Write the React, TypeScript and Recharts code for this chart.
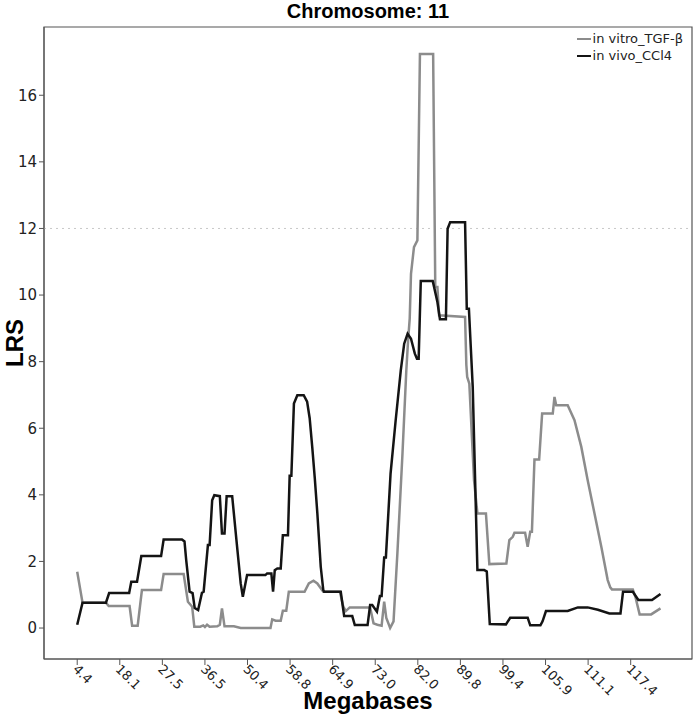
import { LineChart, Line, XAxis, YAxis, ReferenceLine, ReferenceArea, Legend } from 'recharts';

// x positions are in marker-index units: one labelled tick every 10 markers
const MB_LABELS = ['4.4', '18.1', '27.5', '36.5', '50.4', '58.8', '64.9', '73.0', '82.0', '89.8', '99.4', '105.9', '111.1', '117.4'];
const X_TICKS = MB_LABELS.map((_, i) => i * 10);
const Y_TICKS = [0, 2, 4, 6, 8, 10, 12, 14, 16];
const THRESHOLD = 12;

const SERIES_NAMES = ['in vitro_TGF-β', 'in vivo_CCl4'];
const SERIES_COLORS = ['#8c8c8c', '#141414'];

const VITRO_POINTS: [number, number][] = [
  [0, 1.69], [1.25, 0.76], [6.75, 0.76], [7.4, 0.66], [12.3, 0.66], [12.9, 0.07], [14.2, 0.07],
  [15.2, 1.14], [19.7, 1.14], [20.3, 1.62], [25.0, 1.62], [26.0, 0.79], [27.0, 0.64], [27.5, 0.04],
  [28.9, 0.04], [29.6, 0.08], [30.0, 0.03], [30.5, 0.1], [31.1, 0.04], [32.9, 0.05], [33.5, 0.1],
  [34.0, 0.59], [34.6, 0.05], [36.8, 0.05], [38.4, 0.0], [45.4, 0.0], [45.8, 0.26], [46.6, 0.22],
  [47.8, 0.22], [48.3, 0.52], [49.1, 0.52], [49.7, 1.09], [53.4, 1.09], [54.4, 1.34], [55.5, 1.42],
  [56.4, 1.34], [57.8, 1.09], [61.7, 1.09], [62.5, 0.64], [63.1, 0.51], [64.0, 0.62], [68.8, 0.62],
  [69.6, 0.14], [70.5, 0.1], [71.5, 0.07], [72.1, 0.79], [72.6, 0.3], [73.5, 0.0], [74.3, 0.2],
  [75.2, 2.24], [76.4, 5.24], [77.3, 7.74], [77.7, 8.6], [78.1, 9.3], [78.4, 10.64], [79.1, 11.44],
  [79.9, 11.64], [80.5, 17.24], [83.6, 17.24], [84.1, 10.24], [84.6, 10.24], [85.0, 9.39], [91.1, 9.34],
  [91.4, 7.9], [91.6, 7.54], [92.1, 7.34], [93.2, 4.44], [94.0, 3.44], [96.0, 3.44], [96.8, 1.92],
  [100.8, 1.94], [101.5, 2.64], [102.3, 2.74], [102.7, 2.86], [105.2, 2.86], [105.8, 2.44], [106.4, 2.89],
  [106.8, 2.89], [107.4, 5.06], [108.5, 5.06], [109.2, 6.44], [111.7, 6.44], [112.1, 6.94], [112.5, 6.69],
  [115.2, 6.69], [116.8, 6.24], [118.4, 5.44], [119.9, 4.44], [121.5, 3.44], [123.1, 2.44], [124.6, 1.44],
  [125.2, 1.22], [125.6, 1.16], [130.5, 1.16], [131.1, 0.94], [132.1, 0.41], [134.8, 0.41], [137.0, 0.59],
];

const VIVO_POINTS: [number, number][] = [
  [0, 0.1], [1.25, 0.76], [6.75, 0.76], [7.5, 1.05], [12.2, 1.05], [12.7, 1.39], [14.05, 1.39],
  [15.06, 2.16], [19.7, 2.16], [20.3, 2.66], [24.6, 2.66], [25.2, 2.6], [25.6, 2.04], [26.4, 1.09],
  [27.1, 1.05], [27.6, 0.6], [28.4, 0.54], [29.3, 1.06], [29.7, 1.09], [30.7, 2.49], [31.1, 2.49],
  [31.7, 3.84], [32.2, 3.99], [33.5, 3.96], [34.0, 2.84], [34.6, 2.84], [35.1, 3.96], [36.4, 3.96],
  [37.4, 2.64], [38.4, 1.34], [38.9, 0.94], [39.9, 1.59], [44.2, 1.59], [44.6, 1.64], [45.6, 1.64],
  [46.0, 1.09], [46.4, 1.74], [47.0, 1.79], [47.8, 1.79], [48.3, 2.79], [49.5, 2.79], [49.9, 4.57],
  [50.3, 4.57], [50.9, 6.74], [51.7, 6.99], [53.2, 6.99], [54.0, 6.8], [54.6, 6.3], [55.2, 5.44],
  [55.8, 4.5], [56.4, 3.45], [57.2, 1.84], [57.8, 1.14], [58.0, 1.09], [61.9, 1.09], [62.7, 0.36],
  [64.6, 0.36], [65.2, 0.09], [68.2, 0.09], [68.8, 0.69], [69.3, 0.69], [70.4, 0.49], [71.1, 0.96],
  [71.5, 0.96], [72.1, 2.12], [72.5, 2.12], [73.6, 4.64], [74.8, 6.24], [76.0, 7.74], [76.8, 8.54],
  [77.6, 8.84], [78.4, 8.69], [79.3, 8.24], [79.8, 8.09], [80.2, 8.09], [80.7, 10.42], [83.5, 10.42],
  [84.0, 10.14], [84.6, 9.79], [85.2, 9.27], [86.6, 9.27], [87.0, 11.99], [87.6, 12.19], [91.1, 12.19],
  [91.5, 9.59], [92.0, 9.59], [92.9, 7.24], [94.0, 1.74], [95.6, 1.74], [96.2, 1.7], [96.9, 0.12],
  [100.7, 0.11], [101.7, 0.31], [105.8, 0.31], [106.4, 0.08], [108.8, 0.08], [109.3, 0.2], [110.1, 0.51],
  [115.2, 0.51], [117.6, 0.62], [119.9, 0.62], [122.3, 0.55], [125.0, 0.44], [127.6, 0.44], [128.2, 1.09],
  [130.5, 1.09], [131.8, 0.84], [135.0, 0.84], [137.0, 1.02],
];

const X_DOMAIN: [number, number] = [-7.8, 144.4];
const Y_DOMAIN: [number, number] = [-0.93, 18.05];

const vitroData = VITRO_POINTS.map(([pos, lrs]) => ({ pos, lrs }));
const vivoData = VIVO_POINTS.map(([pos, lrs]) => ({ pos, lrs }));

const TICK_FONT = '"DejaVu Sans", sans-serif';
const BOLD_FONT = '"Liberation Sans", Arial, sans-serif';
const BORDER = '#555';

function XTick({ x, y, payload }: any) {
  const label = MB_LABELS[Math.round(payload.value / 10)] ?? '';
  const tx = x - 5;
  const ty = y + 3;
  return (
    <text x={tx} y={ty} transform={`rotate(45 ${tx} ${ty})`} textAnchor="start" fontSize={13} fontFamily={TICK_FONT} fill="#222">
      {label}
    </text>
  );
}

function LegendBox() {
  return (
    <div style={{ fontFamily: TICK_FONT, fontSize: 13, color: '#222', lineHeight: '17px' }}>
      {SERIES_NAMES.map((name, i) => (
        <div key={name} style={{ display: 'flex', alignItems: 'center' }}>
          <span style={{ display: 'inline-block', width: 14, height: 0, borderTop: `2.5px solid ${SERIES_COLORS[i]}`, marginRight: 2 }} />
          <span>{name}</span>
        </div>
      ))}
    </div>
  );
}

export default function App() {
  return (
    <div style={{ position: 'absolute', left: 0, top: 0, width: 693, height: 720, background: '#fff' }}>
      <div
        style={{
          position: 'absolute', left: 44, width: 648, top: 0, textAlign: 'center',
          fontFamily: BOLD_FONT, fontWeight: 'bold', fontSize: 20, lineHeight: '22px',
        }}
      >
        Chromosome: 11
      </div>
      <div
        style={{
          position: 'absolute', left: 44, width: 648, top: 686, textAlign: 'center',
          fontFamily: BOLD_FONT, fontWeight: 'bold', fontSize: 24, lineHeight: '30px',
        }}
      >
        Megabases
      </div>
      {/* rotated y-axis title; box is 60x26 so its centre sits at x = 21 */}
      <div
        style={{
          position: 'absolute', left: -9, top: 330, width: 60, height: 26, textAlign: 'center',
          transformOrigin: '50% 50%', transform: 'translateX(-6px) rotate(-90deg)',
          fontFamily: BOLD_FONT, fontWeight: 'bold', fontSize: 24, lineHeight: '26px',
        }}
      >
        LRS
      </div>

      <LineChart width={693} height={720} margin={{ top: 27, right: 1, left: 0, bottom: 0 }}>
        <XAxis
          xAxisId="b"
          type="number"
          dataKey="pos"
          domain={X_DOMAIN}
          ticks={X_TICKS}
          interval={0}
          tick={<XTick />}
          tickSize={6}
          height={61}
          stroke={BORDER}
          tickLine={{ stroke: BORDER }}
          allowDataOverflow
        />
        <YAxis
          yAxisId="l"
          type="number"
          domain={Y_DOMAIN}
          ticks={Y_TICKS}
          interval={0}
          width={44}
          tickSize={5}
          tickMargin={2}
          tick={{ fontSize: 15, fontFamily: TICK_FONT, fill: '#222' }}
          stroke={BORDER}
          allowDataOverflow
        />

        {/* full frame around the plot area */}
        <ReferenceArea
          xAxisId="b"
          yAxisId="l"
          x1={X_DOMAIN[0]}
          x2={X_DOMAIN[1]}
          y1={Y_DOMAIN[0]}
          y2={Y_DOMAIN[1]}
          fill="none"
          fillOpacity={0}
          stroke={BORDER}
          strokeWidth={1.2}
          ifOverflow="visible"
        />

        <ReferenceLine xAxisId="b" yAxisId="l" y={THRESHOLD} stroke="#c8c8c8" strokeDasharray="2 4" strokeWidth={1} />

        <Legend
          layout="horizontal"
          verticalAlign="middle"
          align="center"
          width={130}
          wrapperStyle={{ top: 30, right: 10, left: 'auto', width: 'auto' }}
          content={() => <LegendBox />}
        />

        <Line
          xAxisId="b"
          yAxisId="l"
          data={vitroData}
          dataKey="lrs"
          name={SERIES_NAMES[0]}
          type="linear"
          stroke={SERIES_COLORS[0]}
          strokeWidth={2.5}
          dot={false}
          isAnimationActive={false}
        />
        <Line
          xAxisId="b"
          yAxisId="l"
          data={vivoData}
          dataKey="lrs"
          name={SERIES_NAMES[1]}
          type="linear"
          stroke={SERIES_COLORS[1]}
          strokeWidth={2.5}
          dot={false}
          isAnimationActive={false}
        />
      </LineChart>
    </div>
  );
}
